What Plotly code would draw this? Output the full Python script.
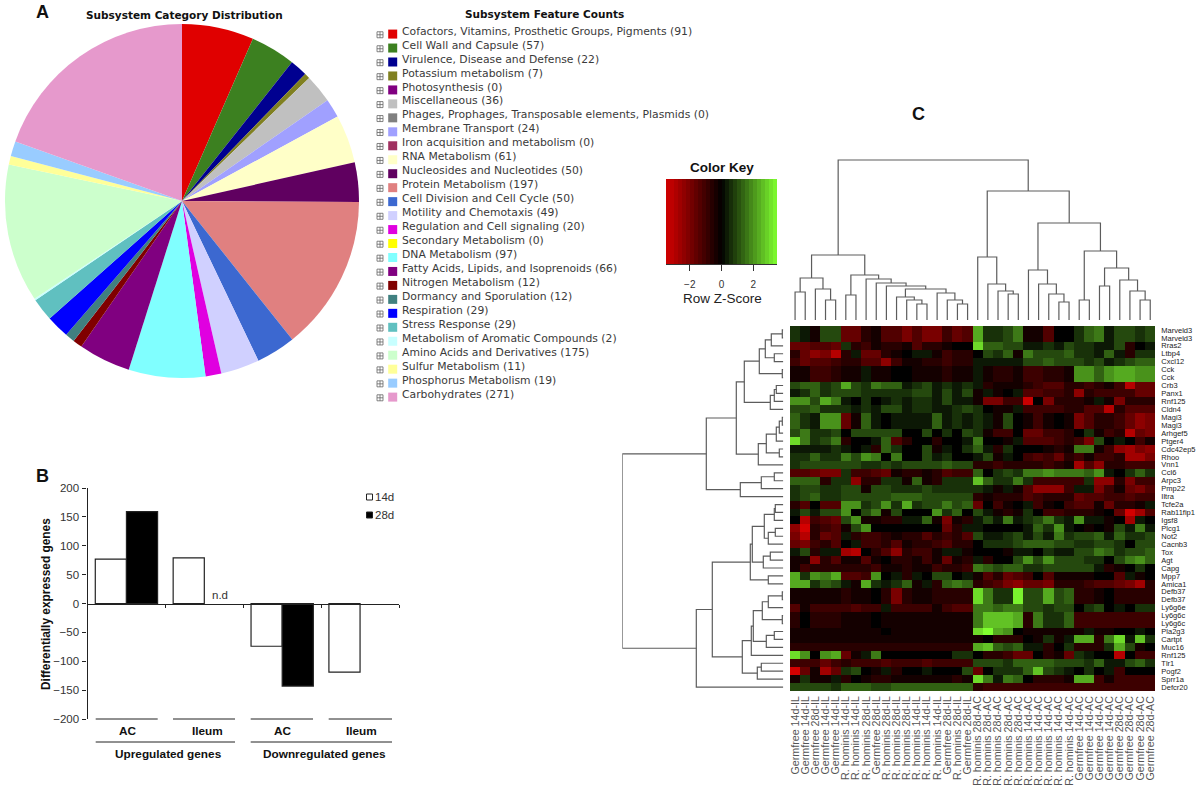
import plotly.graph_objects as go

W, H = 1196, 786
def fx(x): return x / W
def fy(y): return 1 - y / H

# ---------- Panel A ----------
subsystems = ["Cofactors, Vitamins, Prosthetic Groups, Pigments", "Cell Wall and Capsule", "Virulence, Disease and Defense",
    "Potassium metabolism", "Photosynthesis", "Miscellaneous", "Phages, Prophages, Transposable elements, Plasmids",
    "Membrane Transport", "Iron acquisition and metabolism", "RNA Metabolism", "Nucleosides and Nucleotides",
    "Protein Metabolism", "Cell Division and Cell Cycle", "Motility and Chemotaxis", "Regulation and Cell signaling",
    "Secondary Metabolism", "DNA Metabolism", "Fatty Acids, Lipids, and Isoprenoids", "Nitrogen Metabolism",
    "Dormancy and Sporulation", "Respiration", "Stress Response", "Metabolism of Aromatic Compounds",
    "Amino Acids and Derivatives", "Sulfur Metabolism", "Phosphorus Metabolism", "Carbohydrates"]
feature_counts = [91, 57, 22, 7, 0, 36, 0, 24, 0, 61, 50, 197, 50, 49, 20, 0, 97, 66, 12, 12, 29, 29, 2, 175, 11, 19, 271]
subsystem_colors = ["#e00000", "#3c8020", "#000090", "#808020", "#800080", "#c0c0c0", "#808080", "#a0a0ff", "#a03060",
    "#ffffc8", "#600060", "#e08080", "#3c68d0", "#d0d0ff", "#e000e0", "#ffff00", "#80ffff", "#800080", "#800000",
    "#408080", "#0000ff", "#60c0c0", "#c8ffff", "#ccffcc", "#ffff99", "#99ccff", "#e699cc"]

# ---------- Panel B ----------
bar_groups = ["Up AC", "Up Ileum", "Down AC", "Down Ileum"]
genes_14d = [77, 79, -74, -119]
genes_28d = [159, None, -143, None]
bar_ticks = [200, 150, 100, 50, 0, -50, -100, -150, -200]

# ---------- Panel C ----------
gene_labels = ["Marveld3", "Marveld3", "Rras2", "Ltbp4", "Cxcl12", "Cck", "Cck", "Crb3", "Panx1", "Rnf125", "Cldn4", "Magi3",
    "Magi3", "Arhgef5", "Ptger4", "Cdc42ep5", "Rhoo", "Vnn1", "Ccl6", "Arpc3", "Pmp22", "Iltra", "Tcfe2a", "Rab11fip1",
    "Igsf8", "Plcg1", "Not2", "Cacnb3", "Tox", "Agt", "Capg", "Mpp7", "Amica1", "Defb37", "Defb37", "Ly6g6e", "Ly6g6c",
    "Ly6g6c", "Pla2g3", "Cartpt", "Muc16", "Rnf125", "Tlr1", "Pogf2", "Sprr1a", "Defcr20"]
sample_labels = ["Germfree 14d-IL", "Germfree 14d-IL", "Germfree 28d-IL", "Germfree 14d-IL", "Germfree 14d-IL",
    "R. hominis 14d-IL", "R. hominis 14d-IL", "R. hominis 28d-IL", "Germfree 28d-IL", "R. hominis 28d-IL",
    "R. hominis 28d-IL", "R. hominis 28d-IL", "R. hominis 14d-IL", "R. hominis 14d-IL", "R. hominis 14d-IL",
    "Germfree 28d-IL", "R. hominis 28d-IL", "Germfree 28d-IL",
    "R. hominis 28d-AC", "R. hominis 28d-AC", "R. hominis 28d-AC", "R. hominis 28d-AC", "R. hominis 28d-AC",
    "R. hominis 14d-AC", "R. hominis 14d-AC", "R. hominis 14d-AC", "R. hominis 14d-AC", "R. hominis 14d-AC",
    "Germfree 14d-AC", "Germfree 14d-AC", "Germfree 14d-AC", "Germfree 14d-AC",
    "Germfree 28d-AC", "Germfree 28d-AC", "Germfree 28d-AC", "Germfree 28d-AC"]

# Row Z-scores, in thirds of a unit
zscore_thirds = [
 [2,1,-1,3,3,-5,-5,-2,-1,-4,-4,-6,-4,-6,-6,-3,-5,-4,7,2,2,3,5,-1,-1,-4,0,0,2,4,5,1,3,3,2,3],
 [2,1,-1,3,3,-5,-5,-2,-1,-4,-4,-6,-4,-6,-6,-3,-5,-4,7,2,2,3,5,-1,-1,-4,0,0,2,4,5,1,3,3,2,3],
 [-5,-5,-4,-4,-5,2,-2,-3,-1,-2,-2,-1,-4,-2,-2,-1,0,0,9,4,4,3,3,1,1,2,1,3,2,2,1,1,3,-2,0,1],
 [-2,-5,-7,-6,-9,-2,1,-5,-5,-2,-1,0,1,1,-1,-3,-2,-2,0,3,2,4,-1,5,3,3,3,4,2,2,1,4,1,-2,2,2],
 [-3,-5,-4,-4,-3,-2,-2,-4,-4,-7,-3,-1,-1,-2,-2,-3,-2,-2,1,1,1,1,1,3,3,4,3,3,3,2,3,1,2,3,4,4],
 [-1,-1,-3,-3,-2,-1,-1,1,-1,-1,0,0,-1,-1,-1,-2,-1,-1,1,-1,-2,-2,-1,-3,-3,-2,-2,-1,6,6,4,6,7,7,6,6],
 [-1,-1,-3,-3,-2,-1,-1,1,-1,-1,0,0,-1,-1,-1,-2,-1,-1,1,-1,-2,-2,-1,-3,-3,-2,-2,-1,6,6,4,6,7,7,6,6],
 [3,4,4,2,3,7,3,2,5,4,4,1,2,3,1,2,1,2,1,-2,-1,-1,-1,-2,-3,-4,-4,-2,-2,-3,-2,-1,-3,-9,-5,-5],
 [1,2,4,2,3,3,3,2,2,2,2,2,3,3,1,3,1,3,-1,1,-1,0,1,-4,-4,-3,-3,-2,-7,-2,-3,-3,-3,-3,-5,-5],
 [6,6,3,7,5,1,0,2,0,1,2,1,2,2,1,3,1,1,-1,-6,-6,-3,-3,-10,0,-6,-2,-2,-2,-1,1,-1,-6,-2,-2,-2],
 [3,3,4,2,2,2,1,2,1,3,3,1,2,2,1,1,2,3,2,0,-1,-1,1,-3,-3,-3,-3,-2,-2,-4,-4,-9,-2,-4,-4,-4],
 [4,2,1,6,6,-5,-1,4,1,0,1,1,1,1,4,1,2,1,2,1,-1,3,0,-1,-3,-1,0,-1,-6,-4,-2,-2,-3,-5,-7,-6],
 [4,2,1,6,6,-5,-1,4,1,0,1,1,1,1,4,1,2,1,2,1,-1,3,0,-1,-3,-1,0,-1,-6,-4,-2,-2,-3,-5,-7,-6],
 [3,5,2,2,3,0,3,3,3,3,3,0,0,3,0,2,0,3,2,-1,-3,-3,0,-5,-5,-3,-3,-2,0,2,-1,-3,-2,-9,-5,-6],
 [9,5,2,3,5,-2,0,0,1,4,-4,-2,0,0,-2,0,0,1,5,0,0,-1,1,-4,-4,-4,-3,-2,-3,-6,3,0,1,0,-3,-1],
 [1,1,1,1,2,1,0,1,-2,4,2,0,0,3,-1,1,0,2,4,1,-2,2,0,0,0,-1,-2,-1,5,5,-1,-3,-7,-8,-6,-7],
 [2,2,4,2,2,5,3,6,5,0,5,0,0,3,1,2,0,0,1,3,-1,1,0,-3,-4,-3,-5,-2,-3,-1,-3,-3,-2,-8,-8,-6],
 [2,3,3,3,3,3,3,2,2,3,2,3,3,3,3,4,3,3,-2,-2,-3,-2,-2,-2,-2,-3,-2,-1,-8,-4,-7,-2,-2,-3,-3,-3],
 [-4,-4,-5,-6,-6,2,-3,-3,-4,-5,-1,-2,-2,-1,-2,-4,-3,-3,4,0,2,3,2,5,5,6,5,5,5,4,6,1,0,2,4,2],
 [4,4,4,-2,2,2,-7,-2,-2,2,2,-1,4,-1,-2,2,2,2,8,4,2,2,5,2,-3,-3,-3,-3,-3,2,-7,-7,-2,-6,-3,-3],
 [2,3,3,2,2,3,3,-1,3,3,2,2,2,3,2,2,2,2,2,1,-1,1,-1,-4,-7,-7,-7,-3,1,1,-6,-3,-1,-5,-6,-4],
 [2,3,4,2,2,3,3,3,3,3,4,4,4,3,3,3,3,3,-2,-1,-2,-2,-2,-4,-3,-2,-2,-2,-5,-4,-4,-3,-3,-4,-3,-3],
 [-2,-4,0,-4,-4,6,6,2,3,6,2,7,2,3,3,5,3,4,-5,0,-3,-1,0,1,-3,-1,0,-3,-4,-4,-1,-5,-2,-2,-1,1],
 [1,3,1,3,3,6,0,3,5,-1,3,0,0,0,6,2,4,0,3,1,-1,-2,-1,2,0,-3,-3,-2,-2,-2,-1,0,-5,-13,-8,-4],
 [0,-9,-3,-4,-5,3,6,-1,-1,-2,-2,1,1,4,-1,-6,-1,-2,1,3,1,5,1,2,3,5,2,1,6,1,1,-1,0,-8,1,0],
 [-7,-13,-2,-3,-4,-1,3,6,0,0,0,0,0,0,0,-5,-2,1,1,0,0,0,0,1,4,2,6,1,0,-1,0,-1,3,1,5,1],
 [-6,-9,-2,-5,-4,1,-2,-3,-3,-2,-1,-2,-2,-4,-2,-3,-2,-4,3,1,1,2,3,1,3,1,5,2,3,3,4,1,4,2,2,3],
 [-5,-6,-3,-2,-4,0,1,-3,-3,-2,-4,-1,-2,-2,-3,-4,-2,-2,0,2,2,2,3,4,4,4,3,3,2,2,3,3,2,0,3,3],
 [1,3,-2,1,1,-8,-9,0,-2,-4,-7,-2,-3,-3,-1,1,1,-1,0,0,0,-1,1,1,0,2,1,1,3,3,5,4,2,3,3,4],
 [-1,-1,-7,-2,-4,-1,-1,-4,-1,0,-2,-2,-1,-3,-1,-5,-1,-2,1,-2,0,0,3,6,3,6,3,3,3,2,2,0,3,5,6,4],
 [-1,-3,-2,-2,-2,-2,-2,-2,-3,-1,-1,-2,-1,-1,-3,-2,-2,-3,5,4,3,4,4,2,2,3,3,3,3,3,1,-2,-1,0,2,0],
 [7,2,6,5,7,-4,-4,-3,6,0,1,-2,1,0,3,3,0,1,-1,-4,-2,-5,-4,-3,0,-4,-1,-1,-1,-1,0,0,-4,1,-1,0],
 [7,7,2,4,3,1,-1,7,2,1,2,4,-1,1,-2,4,5,4,-2,-3,-4,-6,-7,-5,-5,-6,-2,-2,-2,-3,-4,-4,-5,-6,-8,-2],
 [-1,-1,-1,-1,-1,-2,-1,-1,0,-2,-6,-2,-1,-1,-2,-2,-2,-2,9,5,2,2,10,3,3,7,3,4,-2,-2,-1,0,-2,-2,-2,-2],
 [-1,-1,-1,-1,-1,-2,-1,-1,0,-2,-6,-2,-1,-1,-2,-2,-2,-2,9,5,2,2,10,3,3,7,3,4,-2,-2,-1,0,-2,-2,-2,-2],
 [-4,-1,-3,-3,-3,-3,-4,-3,-3,1,-3,-3,-3,-3,-1,-3,-4,-4,5,5,4,5,5,3,3,2,3,3,0,2,3,0,1,0,2,2],
 [-2,0,-2,-2,-2,-1,-1,-1,0,-1,-1,-1,-1,-1,-1,-1,-1,-1,5,8,8,8,7,-2,5,2,2,4,-3,-3,-3,-3,-3,-3,-3,-3],
 [-2,0,-2,-2,-2,-1,-1,-1,0,-1,-1,-1,-1,-1,-1,-1,-1,-1,5,8,8,8,7,-2,5,2,2,4,-3,-3,-3,-3,-3,-3,-3,-3],
 [-1,-1,-1,-1,-1,-1,-1,-1,-1,0,-1,-1,-1,-1,-1,-1,-1,-1,9,11,7,6,0,-1,-1,-1,-1,-1,-1,1,-1,-1,0,0,1,0],
 [-1,-1,-1,-1,-1,-1,-1,-1,-1,-1,-1,-1,-1,-1,-1,-1,-1,-1,-1,0,-2,-2,-2,0,-1,2,-1,1,7,7,-2,5,9,1,8,2],
 [-2,-2,-2,-2,-2,-2,-2,-2,-2,-2,-2,-2,-2,-2,-2,-2,-2,-2,7,8,4,3,4,1,1,-2,0,2,-2,-2,-2,2,7,3,-1,0],
 [9,6,0,6,7,-5,-1,1,5,0,0,0,0,0,0,0,2,2,0,-2,-2,-3,-5,-5,0,-2,-1,-5,2,1,0,0,-9,0,-3,-3],
 [-3,-3,-3,-5,-3,-2,-3,-3,-3,-4,-3,-3,-3,-4,-3,-3,-3,-3,3,3,3,2,4,4,4,4,3,3,3,2,4,1,1,3,4,2],
 [-13,-5,-1,-8,-5,2,3,0,-1,1,-2,0,0,1,0,0,0,3,-5,0,2,2,2,4,8,3,2,1,0,2,0,1,-3,0,0,0],
 [-1,2,-1,-1,1,-2,0,-1,-2,-2,-1,-1,-1,-1,-1,-1,-2,-1,9,5,1,5,4,0,-2,-2,-2,-1,7,7,-3,-1,-3,-3,-3,-3],
 [3,3,3,3,2,4,4,4,3,3,4,4,4,4,4,4,4,4,-2,-3,-3,-3,-3,-3,-3,-3,-3,-3,-3,-3,-3,-3,-3,-3,-3,-3],
]
assert len(zscore_thirds) == len(gene_labels) and all(len(r) == len(sample_labels) for r in zscore_thirds)

key_levels = [-3.375, -3.125, -2.875, -2.625, -2.375, -2.125, -1.875, -1.625, -1.375, -1.125, -0.875, -0.625, -0.375, -0.125,
              0.125, 0.375, 0.625, 0.875, 1.125, 1.375, 1.625, 1.875, 2.125, 2.375, 2.625, 2.875, 3.125, 3.375]
key_ticks = [-2, 0, 2]

# Dendrograms: (merge height, left, right), 0 = leaf
col_tree = (160,
    (65,
     (42, (28, 0, 0), (31, 0, (20, 0, 0))),
     (45, (25, 0, 0), (41, 0, (37, 0, (34, 0, (31, (23, 0, (20, 0, (16, 0, 0))), (27, 0, (20, 0, (16, 0, 0))))))))),
    (129,
     (63, 0, (36, 0, (29, 0, (26, 0, 0)))),
     (97,
      (50, 0, (36, 0, (26, 0, (18, 0, 0)))),
      (69, (20, 0, 0), (52, (34, 0, 0), (40, 0, (29, 0, (20, 0, 0))))))))
row_tree = (161,
    (77,
     (47,
      (39, (24, (18, (12, (1, 0, 0), 0), (9, 0, 0)), (1, 0, 0)), (13, (9, (7, 0, 0), 0), 0)),
      (25, (17, (7, (4, (1, 0, 0), 0), 0), (4, 0, 0)), 0)),
     (43, (22, (9, 0, 0), 0), 0)),
    (87,
     (71,
      (33, (31, (19, (9, (8, 0, 0), 0), (15, (8, 0, 0), 0)), (20, (13, 0, 0), 0)), (15, 0, 0)),
      (41,
       (32, (30, (21, (15, (1, 0, 0), 0), (1, 0, 0)), (17, (9, 0, 0), 0)), 0),
       (26, (22, 0, 0), 0))),
     0))

def tree_lines(tree):
    pos, hts = [], []
    counter = [0]
    def walk(node):
        if node == 0:
            counter[0] += 1
            return counter[0] - 1, 0
        h, a, b = node
        pa, ha = walk(a)
        pb, hb = walk(b)
        pos.extend([pa, pa, pb, pb, None])
        hts.extend([ha, h, h, hb, None])
        return (pa + pb) / 2, h
    walk(tree)
    return pos, hts

TXT = "#333333"
ARIAL = "Liberation Sans"
VERD = "DejaVu Sans"
fig = go.Figure()

# pie
fig.add_trace(go.Pie(labels=subsystems, values=feature_counts, sort=False, direction="clockwise", rotation=0,
    marker=dict(colors=subsystem_colors, line=dict(width=0)), textinfo="none", showlegend=False,
    domain=dict(x=[fx(5), fx(359)], y=[fy(378), fy(24)])))

# legend of panel A
rows = list(range(len(subsystems)))
fig.add_trace(go.Scatter(x=[20] * len(rows), y=[r + 0.2 for r in rows], mode="markers", xaxis="x3", yaxis="y3",
    marker=dict(symbol="square-cross-open", size=6, color="#666666", line=dict(width=0.8, color="#666666")), showlegend=False))
fig.add_trace(go.Scatter(x=[32.7] * len(rows), y=[r + 0.15 for r in rows], mode="markers", xaxis="x3", yaxis="y3",
    marker=dict(symbol="square", size=9, color=subsystem_colors), showlegend=False))
fig.add_trace(go.Scatter(x=[42] * len(rows), y=rows, mode="text", xaxis="x3", yaxis="y3", textposition="middle right",
    text=[f"{s} ({c})" for s, c in zip(subsystems, feature_counts)],
    textfont=dict(family=VERD, size=10.8, color="#3a3a3a"), showlegend=False))

# bars
fig.add_trace(go.Bar(x=bar_groups, y=genes_14d, name="14d", marker=dict(color="white", line=dict(color="#222", width=1.2)), showlegend=False))
fig.add_trace(go.Bar(x=bar_groups, y=genes_28d, name="28d", marker=dict(color="black", line=dict(color="#222", width=1.2)), showlegend=False))

# heatmap
fig.add_trace(go.Heatmap(z=[[v / 3 for v in r] for r in zscore_thirds], xaxis="x4", yaxis="y4", zmin=-3.5, zmax=3.5,
    colorscale=[[0, "#d40000"], [0.5, "#000000"], [1, "#80ff30"]], showscale=False))

# dendrograms
cx, cy = tree_lines(col_tree)
fig.add_trace(go.Scatter(x=cx, y=cy, mode="lines", xaxis="x5", yaxis="y5", line=dict(color="#5c5c5c", width=1.2), showlegend=False))
ry, rx = tree_lines(row_tree)
fig.add_trace(go.Scatter(x=rx, y=ry, mode="lines", xaxis="x6", yaxis="y6", line=dict(color="#5c5c5c", width=1.2), showlegend=False))

# colour key
fig.add_trace(go.Heatmap(z=[key_levels], x=key_levels, xaxis="x7", yaxis="y7", zmin=-3.5, zmax=3.5,
    colorscale=[[0, "#d40000"], [0.5, "#000000"], [1, "#80ff30"]], showscale=False))

hidden = dict(visible=False, showgrid=False, zeroline=False)
HM = dict(l=790, r=1155.3, t=326, b=691)
layout = dict(
    width=W, height=H, margin=dict(l=0, r=0, t=0, b=0, autoexpand=False), autosize=False, paper_bgcolor="white", plot_bgcolor="white",
    barmode="group", bargap=0.2, bargroupgap=0, showlegend=False,
    # bar axes
    xaxis=dict(domain=[fx(87.5), fx(399)], anchor="free", position=fy(603.7), type="category", showline=True,
               linecolor="#222", linewidth=1.2, ticks="outside", ticklen=3, tickcolor="#222", tickson="boundaries",
               showticklabels=False, showgrid=False, zeroline=False, categoryorder="array", categoryarray=bar_groups),
    yaxis=dict(domain=[fy(719), fy(488)], range=[-200, 200], tickvals=bar_ticks, showline=True, linecolor="#222", linewidth=1.2,
               ticks="outside", ticklen=4, tickcolor="#222", showgrid=False, zeroline=False, anchor="x",
               tickfont=dict(family=ARIAL, size=11.5, color=TXT), ticklabelstandoff=1),
    # legend layout
    xaxis3=dict(hidden, domain=[fx(360), fx(760)], range=[0, 400], anchor="y3"),
    yaxis3=dict(hidden, domain=[fy(402), fy(25)], range=[26.5, -0.5], anchor="x3"),
    # heatmap
    xaxis4=dict(domain=[fx(HM["l"]), fx(HM["r"])], range=[-0.5, 35.5], anchor="y4", tickmode="array",
                tickvals=list(range(len(sample_labels))), ticktext=sample_labels, tickangle=-90, ticks="", showgrid=False,
                zeroline=False, tickfont=dict(family=ARIAL, size=10.7, color="#555555"), ticklabelstandoff=2),
    yaxis4=dict(domain=[fy(HM["b"]), fy(HM["t"])], range=[45.5, -0.5], anchor="x4", side="right", tickmode="array",
                tickvals=list(range(len(gene_labels))), ticktext=gene_labels, ticks="", showgrid=False, zeroline=False,
                tickfont=dict(family=ARIAL, size=7.5, color="#222222"), ticklabelstandoff=5),
    xaxis5=dict(hidden, domain=[fx(HM["l"]), fx(HM["r"])], range=[-0.5, 35.5], anchor="y5"),
    yaxis5=dict(hidden, domain=[fy(320), fy(150)], range=[0, 170], anchor="x5"),
    xaxis6=dict(hidden, domain=[fx(622.3), fx(783.3)], range=[161, 0], anchor="y6"),
    yaxis6=dict(hidden, domain=[fy(HM["b"]), fy(HM["t"])], range=[45.5, -0.5], anchor="x6"),
    xaxis7=dict(domain=[fx(666), fx(777)], range=[-3.5, 3.5], anchor="y7", tickvals=key_ticks, ticks="outside", ticklen=6,
                tickcolor="#333", showline=True, linecolor="#333", linewidth=1, showgrid=False, zeroline=False,
                tickfont=dict(family=ARIAL, size=10, color="#333"), ticklabelstandoff=5),
    yaxis7=dict(hidden, domain=[fy(264), fy(179)], anchor="x7"),
)

def note(x, y, text, size, family=ARIAL, bold=False, color="#111111", **kw):
    return dict(x=fx(x), y=fy(y), xref="paper", yref="paper", text=f"<b>{text}</b>" if bold else text, showarrow=False,
                font=dict(family=family, size=size, color=color), xanchor=kw.pop("xanchor", "center"), yanchor="middle", **kw)

layout["annotations"] = [
    note(42, 12, "A", 18, bold=True), note(43, 476, "B", 18, bold=True), note(918, 114, "C", 18, bold=True),
    note(184, 15, "Subsystem Category Distribution", 10.5, family=VERD, bold=True),
    note(544, 14, "Subsystem Feature Counts", 10.5, family=VERD, bold=True),
    note(46, 604, "Differentially expressed genes", 11.9, bold=True, textangle=-90),
    note(220, 595, "n.d", 11.5, color=TXT),
    note(373, 497, "14d", 11.5, color=TXT, xanchor="left"), note(373, 515, "28d", 11.5, color=TXT, xanchor="left"),
    note(128, 731, "AC", 11.8, bold=True), note(207, 731, "Ileum", 11.8, bold=True),
    note(283, 731, "AC", 11.8, bold=True), note(361, 731, "Ileum", 11.8, bold=True),
    note(168, 754, "Upregulated genes", 11.8, bold=True), note(324, 754, "Downregulated genes", 11.8, bold=True),
    note(722, 167, "Color Key", 13.5, bold=True), note(722, 298, "Row Z-Score", 13.5, color="#222222"),
]
def hline(x0, x1, y):
    return dict(type="line", xref="paper", yref="paper", x0=fx(x0), x1=fx(x1), y0=fy(y), y1=fy(y), line=dict(color="#222", width=1))
def box(x0, y0, x1, y1, fill):
    return dict(type="rect", xref="paper", yref="paper", x0=fx(x0), x1=fx(x1), y0=fy(y0), y1=fy(y1), fillcolor=fill, line=dict(color="#222", width=1))
layout["shapes"] = [hline(95.7, 157.7, 719), hline(173, 235, 719), hline(250.7, 313, 719), hline(328.7, 392, 719),
                    hline(95.7, 235, 742), hline(250.7, 392, 742),
                    box(366.5, 494, 372.5, 500, "white"), box(366.5, 512, 372.5, 518, "black")]
fig.update_layout(**layout)
fig.write_html("out.html", post_script="document.body.style.margin='0';", config=dict(displayModeBar=False))
